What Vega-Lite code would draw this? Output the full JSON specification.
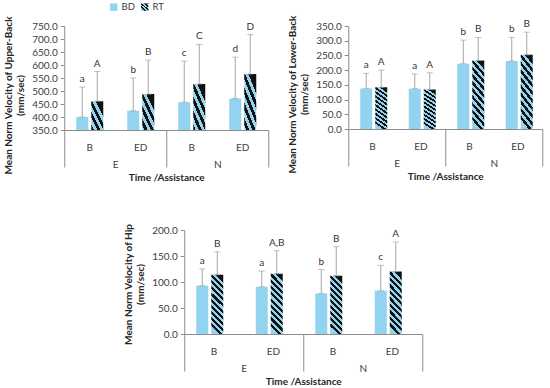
{
  "$schema": "https://vega.github.io/schema/vega-lite/v6.json",
  "padding": {"left": 3, "top": 2, "right": 5, "bottom": 2},
  "datasets": {
    "upper": [
      {"asst": "E", "cat": "E|B", "group": "BD", "value": 400, "upper": 515, "letter": "a"},
      {"asst": "E", "cat": "E|B", "group": "RT", "value": 461, "upper": 575, "letter": "A"},
      {"asst": "E", "cat": "E|ED", "group": "BD", "value": 424, "upper": 550, "letter": "b"},
      {"asst": "E", "cat": "E|ED", "group": "RT", "value": 488, "upper": 619, "letter": "B"},
      {"asst": "N", "cat": "N|B", "group": "BD", "value": 457, "upper": 615, "letter": "c"},
      {"asst": "N", "cat": "N|B", "group": "RT", "value": 527, "upper": 679, "letter": "C"},
      {"asst": "N", "cat": "N|ED", "group": "BD", "value": 471, "upper": 630, "letter": "d"},
      {"asst": "N", "cat": "N|ED", "group": "RT", "value": 565, "upper": 717, "letter": "D"}
    ],
    "lower": [
      {"asst": "E", "cat": "E|B", "group": "BD", "value": 138, "upper": 189, "letter": "a"},
      {"asst": "E", "cat": "E|B", "group": "RT", "value": 142, "upper": 200, "letter": "A"},
      {"asst": "E", "cat": "E|ED", "group": "BD", "value": 137, "upper": 187, "letter": "a"},
      {"asst": "E", "cat": "E|ED", "group": "RT", "value": 134, "upper": 191, "letter": "A"},
      {"asst": "N", "cat": "N|B", "group": "BD", "value": 222, "upper": 302, "letter": "b"},
      {"asst": "N", "cat": "N|B", "group": "RT", "value": 233, "upper": 311, "letter": "B"},
      {"asst": "N", "cat": "N|ED", "group": "BD", "value": 231, "upper": 311, "letter": "b"},
      {"asst": "N", "cat": "N|ED", "group": "RT", "value": 252, "upper": 329, "letter": "B"}
    ],
    "hip": [
      {"asst": "E", "cat": "E|B", "group": "BD", "value": 93, "upper": 125, "letter": "a"},
      {"asst": "E", "cat": "E|B", "group": "RT", "value": 114, "upper": 158, "letter": "B"},
      {"asst": "E", "cat": "E|ED", "group": "BD", "value": 91, "upper": 121, "letter": "a"},
      {"asst": "E", "cat": "E|ED", "group": "RT", "value": 116, "upper": 160, "letter": "A,B"},
      {"asst": "N", "cat": "N|B", "group": "BD", "value": 78, "upper": 124, "letter": "b"},
      {"asst": "N", "cat": "N|B", "group": "RT", "value": 112, "upper": 168, "letter": "B"},
      {"asst": "N", "cat": "N|ED", "group": "BD", "value": 83, "upper": 132, "letter": "c"},
      {"asst": "N", "cat": "N|ED", "group": "RT", "value": 120, "upper": 177, "letter": "A"}
    ]
  },
  "spacing": 41,
  "center": true,
  "vconcat": [
    {
      "spacing": 18,
      "hconcat": [
        {
          "width": 204, "height": 104,
          "data": {"name": "upper"},
          "layer": [
            {
              "encoding": {
                "x": {"field": "cat", "type": "nominal", "sort": null, "scale": {"paddingInner": 0, "paddingOuter": 0},
                  "axis": {"title": null, "labelExpr": "split(datum.label, '|')[1]", "labelAngle": 0, "ticks": false, "tickSize": 0, "labelPadding": 12}},
                "xOffset": {"field": "group", "type": "nominal", "scale": {"paddingInner": 0.2, "paddingOuter": 0.8}}
              },
              "layer": [
                {
                  "mark": {"type": "bar", "clip": true},
                  "encoding": {
                    "y": {"field": "value", "type": "quantitative", "title": ["Mean Norm Velocity of Upper-Back", "(mm/sec)"],
                      "scale": {"domain": [350, 750], "nice": false, "zero": false},
                      "axis": {"values": [350, 400, 450, 500, 550, 600, 650, 700, 750], "tickCount": 20, "format": ".1f", "titleY": 69, "labelOverlap": false}},
                    "color": {"field": "group", "type": "nominal",
                      "scale": {"domain": ["BD", "RT"], "range": ["#92d3ef", {"expr": "{gradient:'linear',x1:0.6,y1:0,x2:0.4,y2:1,stops:[{offset:0,color:'#111'},{offset:0.05,color:'#111'},{offset:0.05,color:'#92d3ef'},{offset:0.1,color:'#92d3ef'},{offset:0.1,color:'#111'},{offset:0.15,color:'#111'},{offset:0.15,color:'#92d3ef'},{offset:0.2,color:'#92d3ef'},{offset:0.2,color:'#111'},{offset:0.25,color:'#111'},{offset:0.25,color:'#92d3ef'},{offset:0.3,color:'#92d3ef'},{offset:0.3,color:'#111'},{offset:0.35,color:'#111'},{offset:0.35,color:'#92d3ef'},{offset:0.4,color:'#92d3ef'},{offset:0.4,color:'#111'},{offset:0.45,color:'#111'},{offset:0.45,color:'#92d3ef'},{offset:0.5,color:'#92d3ef'},{offset:0.5,color:'#111'},{offset:0.55,color:'#111'},{offset:0.55,color:'#92d3ef'},{offset:0.6,color:'#92d3ef'},{offset:0.6,color:'#111'},{offset:0.65,color:'#111'},{offset:0.65,color:'#92d3ef'},{offset:0.7,color:'#92d3ef'},{offset:0.7,color:'#111'},{offset:0.75,color:'#111'},{offset:0.75,color:'#92d3ef'},{offset:0.8,color:'#92d3ef'},{offset:0.8,color:'#111'},{offset:0.85,color:'#111'},{offset:0.85,color:'#92d3ef'},{offset:0.9,color:'#92d3ef'},{offset:0.9,color:'#111'},{offset:0.95,color:'#111'},{offset:0.95,color:'#92d3ef'},{offset:1,color:'#92d3ef'}]}"}]},
                      "legend": {"orient": "none", "legendX": 45, "legendY": -24, "direction": "horizontal", "title": null}}
                  }
                },
                {
                  "mark": {"type": "rule", "color": "#a6a6a6"},
                  "encoding": {
                    "y": {"field": "value", "type": "quantitative", "title": ["Mean Norm Velocity of Upper-Back", "(mm/sec)"], "scale": {"domain": [350, 750], "nice": false, "zero": false}},
                    "y2": {"field": "upper"}
                  }
                },
                {
                  "mark": {"type": "tick", "color": "#a6a6a6", "size": 6, "thickness": 1, "orient": "horizontal"},
                  "encoding": {
                    "y": {"field": "upper", "type": "quantitative", "title": ["Mean Norm Velocity of Upper-Back", "(mm/sec)"], "scale": {"domain": [350, 750], "nice": false, "zero": false}}
                  }
                },
                {
                  "mark": {"type": "tick", "color": "#a6a6a6", "size": 6, "thickness": 1, "orient": "horizontal"},
                  "encoding": {
                    "y": {"field": "value", "type": "quantitative", "title": ["Mean Norm Velocity of Upper-Back", "(mm/sec)"], "scale": {"domain": [350, 750], "nice": false, "zero": false}}
                  }
                },
                {
                  "mark": {"type": "text", "baseline": "bottom", "dy": -3, "fontSize": 10, "color": "#333"},
                  "encoding": {
                    "y": {"field": "upper", "type": "quantitative", "title": ["Mean Norm Velocity of Upper-Back", "(mm/sec)"], "scale": {"domain": [350, 750], "nice": false, "zero": false}},
                    "text": {"field": "letter"}
                  }
                }
              ]
            },
            {
              "mark": {"type": "rule", "opacity": 0},
              "encoding": {
                "x": {"field": "asst", "type": "nominal", "scale": {"paddingInner": 0, "paddingOuter": 0},
                  "axis": {"orient": "bottom", "title": "Time /Assistance", "domain": false, "tickBand": "extent", "tickSize": 37, "labelPadding": -8, "labelAngle": 0, "titlePadding": 3}}
              }
            }
          ],
          "resolve": {"scale": {"x": "independent"}, "axis": {"x": "independent"}}
        },
        {
          "width": 194, "height": 103,
          "data": {"name": "lower"},
          "layer": [
            {
              "encoding": {
                "x": {"field": "cat", "type": "nominal", "sort": null, "scale": {"paddingInner": 0, "paddingOuter": 0},
                  "axis": {"title": null, "labelExpr": "split(datum.label, '|')[1]", "labelAngle": 0, "ticks": false, "tickSize": 0, "labelPadding": 12}},
                "xOffset": {"field": "group", "type": "nominal", "scale": {"paddingInner": 0.2, "paddingOuter": 0.8}}
              },
              "layer": [
                {
                  "mark": {"type": "bar", "clip": true},
                  "encoding": {
                    "y": {"field": "value", "type": "quantitative", "title": ["Mean Norm Velocity of Lower-Back", "(mm/sec)"],
                      "scale": {"domain": [0, 350], "nice": false},
                      "axis": {"values": [0, 50, 100, 150, 200, 250, 300, 350], "tickCount": 20, "format": ".1f", "titleY": 68, "labelOverlap": false}},
                    "color": {"field": "group", "type": "nominal",
                      "scale": {"domain": ["BD", "RT"], "range": ["#92d3ef", {"expr": "{gradient:'linear',x1:0.6,y1:0,x2:0.4,y2:1,stops:[{offset:0,color:'#111'},{offset:0.05,color:'#111'},{offset:0.05,color:'#92d3ef'},{offset:0.1,color:'#92d3ef'},{offset:0.1,color:'#111'},{offset:0.15,color:'#111'},{offset:0.15,color:'#92d3ef'},{offset:0.2,color:'#92d3ef'},{offset:0.2,color:'#111'},{offset:0.25,color:'#111'},{offset:0.25,color:'#92d3ef'},{offset:0.3,color:'#92d3ef'},{offset:0.3,color:'#111'},{offset:0.35,color:'#111'},{offset:0.35,color:'#92d3ef'},{offset:0.4,color:'#92d3ef'},{offset:0.4,color:'#111'},{offset:0.45,color:'#111'},{offset:0.45,color:'#92d3ef'},{offset:0.5,color:'#92d3ef'},{offset:0.5,color:'#111'},{offset:0.55,color:'#111'},{offset:0.55,color:'#92d3ef'},{offset:0.6,color:'#92d3ef'},{offset:0.6,color:'#111'},{offset:0.65,color:'#111'},{offset:0.65,color:'#92d3ef'},{offset:0.7,color:'#92d3ef'},{offset:0.7,color:'#111'},{offset:0.75,color:'#111'},{offset:0.75,color:'#92d3ef'},{offset:0.8,color:'#92d3ef'},{offset:0.8,color:'#111'},{offset:0.85,color:'#111'},{offset:0.85,color:'#92d3ef'},{offset:0.9,color:'#92d3ef'},{offset:0.9,color:'#111'},{offset:0.95,color:'#111'},{offset:0.95,color:'#92d3ef'},{offset:1,color:'#92d3ef'}]}"}]},
                      "legend": {"orient": "none", "legendX": 45, "legendY": -24, "direction": "horizontal", "title": null}}
                  }
                },
                {
                  "mark": {"type": "rule", "color": "#a6a6a6"},
                  "encoding": {
                    "y": {"field": "value", "type": "quantitative", "title": ["Mean Norm Velocity of Lower-Back", "(mm/sec)"], "scale": {"domain": [0, 350], "nice": false}},
                    "y2": {"field": "upper"}
                  }
                },
                {
                  "mark": {"type": "tick", "color": "#a6a6a6", "size": 6, "thickness": 1, "orient": "horizontal"},
                  "encoding": {
                    "y": {"field": "upper", "type": "quantitative", "title": ["Mean Norm Velocity of Lower-Back", "(mm/sec)"], "scale": {"domain": [0, 350], "nice": false}}
                  }
                },
                {
                  "mark": {"type": "tick", "color": "#a6a6a6", "size": 6, "thickness": 1, "orient": "horizontal"},
                  "encoding": {
                    "y": {"field": "value", "type": "quantitative", "title": ["Mean Norm Velocity of Lower-Back", "(mm/sec)"], "scale": {"domain": [0, 350], "nice": false}}
                  }
                },
                {
                  "mark": {"type": "text", "baseline": "bottom", "dy": -3, "fontSize": 10, "color": "#333"},
                  "encoding": {
                    "y": {"field": "upper", "type": "quantitative", "title": ["Mean Norm Velocity of Lower-Back", "(mm/sec)"], "scale": {"domain": [0, 350], "nice": false}},
                    "text": {"field": "letter"}
                  }
                }
              ]
            },
            {
              "mark": {"type": "rule", "opacity": 0},
              "encoding": {
                "x": {"field": "asst", "type": "nominal", "scale": {"paddingInner": 0, "paddingOuter": 0},
                  "axis": {"orient": "bottom", "title": "Time /Assistance", "domain": false, "tickBand": "extent", "tickSize": 37, "labelPadding": -8, "labelAngle": 0, "titlePadding": 3}}
              }
            }
          ],
          "resolve": {"scale": {"x": "independent"}, "axis": {"x": "independent"}}
        }
      ]
    },
    {
      "width": 238, "height": 104,
      "data": {"name": "hip"},
      "layer": [
        {
          "encoding": {
            "x": {"field": "cat", "type": "nominal", "sort": null, "scale": {"paddingInner": 0, "paddingOuter": 0},
              "axis": {"title": null, "labelExpr": "split(datum.label, '|')[1]", "labelAngle": 0, "ticks": false, "tickSize": 0, "labelPadding": 12}},
            "xOffset": {"field": "group", "type": "nominal", "scale": {"paddingInner": 0.18, "paddingOuter": 0.84}}
          },
          "layer": [
            {
              "mark": {"type": "bar", "clip": true},
              "encoding": {
                "y": {"field": "value", "type": "quantitative", "title": ["Mean Norm Velocity of Hip", "(mm/sec)"],
                  "scale": {"domain": [0, 200], "nice": false},
                  "axis": {"values": [0, 50, 100, 150, 200], "tickCount": 20, "format": ".1f", "titleY": 54, "labelOverlap": false}},
                "color": {"field": "group", "type": "nominal",
                  "scale": {"domain": ["BD", "RT"], "range": ["#92d3ef", {"expr": "{gradient:'linear',x1:0.6,y1:0,x2:0.4,y2:1,stops:[{offset:0,color:'#111'},{offset:0.05,color:'#111'},{offset:0.05,color:'#92d3ef'},{offset:0.1,color:'#92d3ef'},{offset:0.1,color:'#111'},{offset:0.15,color:'#111'},{offset:0.15,color:'#92d3ef'},{offset:0.2,color:'#92d3ef'},{offset:0.2,color:'#111'},{offset:0.25,color:'#111'},{offset:0.25,color:'#92d3ef'},{offset:0.3,color:'#92d3ef'},{offset:0.3,color:'#111'},{offset:0.35,color:'#111'},{offset:0.35,color:'#92d3ef'},{offset:0.4,color:'#92d3ef'},{offset:0.4,color:'#111'},{offset:0.45,color:'#111'},{offset:0.45,color:'#92d3ef'},{offset:0.5,color:'#92d3ef'},{offset:0.5,color:'#111'},{offset:0.55,color:'#111'},{offset:0.55,color:'#92d3ef'},{offset:0.6,color:'#92d3ef'},{offset:0.6,color:'#111'},{offset:0.65,color:'#111'},{offset:0.65,color:'#92d3ef'},{offset:0.7,color:'#92d3ef'},{offset:0.7,color:'#111'},{offset:0.75,color:'#111'},{offset:0.75,color:'#92d3ef'},{offset:0.8,color:'#92d3ef'},{offset:0.8,color:'#111'},{offset:0.85,color:'#111'},{offset:0.85,color:'#92d3ef'},{offset:0.9,color:'#92d3ef'},{offset:0.9,color:'#111'},{offset:0.95,color:'#111'},{offset:0.95,color:'#92d3ef'},{offset:1,color:'#92d3ef'}]}"}]},
                  "legend": {"orient": "none", "legendX": 64, "legendY": -24, "direction": "horizontal", "title": null}}
              }
            },
            {
              "mark": {"type": "rule", "color": "#a6a6a6"},
              "encoding": {
                "y": {"field": "value", "type": "quantitative", "title": ["Mean Norm Velocity of Hip", "(mm/sec)"], "scale": {"domain": [0, 200], "nice": false}},
                "y2": {"field": "upper"}
              }
            },
            {
              "mark": {"type": "tick", "color": "#a6a6a6", "size": 6, "thickness": 1, "orient": "horizontal"},
              "encoding": {
                "y": {"field": "upper", "type": "quantitative", "title": ["Mean Norm Velocity of Hip", "(mm/sec)"], "scale": {"domain": [0, 200], "nice": false}}
              }
            },
            {
              "mark": {"type": "tick", "color": "#a6a6a6", "size": 6, "thickness": 1, "orient": "horizontal"},
              "encoding": {
                "y": {"field": "value", "type": "quantitative", "title": ["Mean Norm Velocity of Hip", "(mm/sec)"], "scale": {"domain": [0, 200], "nice": false}}
              }
            },
            {
              "mark": {"type": "text", "baseline": "bottom", "dy": -3, "fontSize": 10, "color": "#333"},
              "encoding": {
                "y": {"field": "upper", "type": "quantitative", "title": ["Mean Norm Velocity of Hip", "(mm/sec)"], "scale": {"domain": [0, 200], "nice": false}},
                "text": {"field": "letter"}
              }
            }
          ]
        },
        {
          "mark": {"type": "rule", "opacity": 0},
          "encoding": {
            "x": {"field": "asst", "type": "nominal", "scale": {"paddingInner": 0, "paddingOuter": 0},
              "axis": {"orient": "bottom", "title": "Time /Assistance", "domain": false, "tickBand": "extent", "tickSize": 37, "labelPadding": -8, "labelAngle": 0, "titlePadding": 3}}
          }
        }
      ],
      "resolve": {"scale": {"x": "independent"}, "axis": {"x": "independent"}}
    }
  ],
  "config": {
    "font": "Lato",
    "view": {"stroke": null},
    "axis": {"labelFontSize": 10, "titleFontSize": 10, "titleFontWeight": "bold", "labelColor": "#404040", "titleColor": "#262626", "domainColor": "#8c8c8c", "tickColor": "#8c8c8c", "grid": false},
    "axisY": {"tickSize": 4, "labelPadding": 3, "titlePadding": 6, "labelOverlap": false},
    "legend": {"symbolType": "square", "symbolSize": 55, "labelFontSize": 9.5, "labelOffset": 3, "labelColor": "#404040", "columnPadding": 5, "symbolStrokeWidth": 0}
  }
}
